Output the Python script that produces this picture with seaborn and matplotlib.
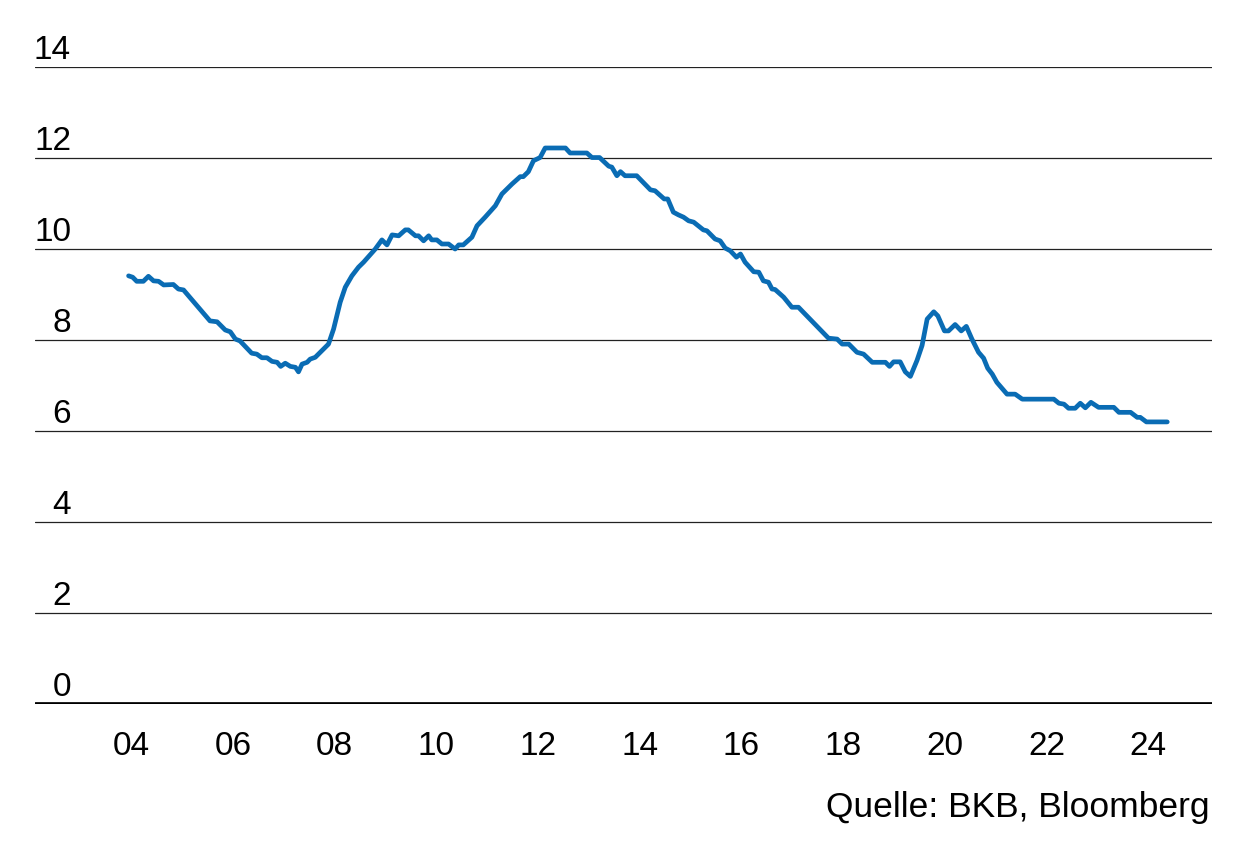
import pandas as pd
import matplotlib
matplotlib.use("Agg")
import matplotlib.pyplot as plt
import seaborn as sns

# données (année décimale, valeur)
annees = [2003.95, 2004.03, 2004.11, 2004.24, 2004.34, 2004.44, 2004.54, 2004.64, 2004.83, 2004.93,
          2005.03, 2005.55, 2005.69, 2005.85, 2005.95, 2006.05, 2006.14, 2006.37, 2006.47, 2006.57,
          2006.67, 2006.77, 2006.87, 2006.94, 2007.03, 2007.13, 2007.23, 2007.29, 2007.36, 2007.46,
          2007.52, 2007.62, 2007.78, 2007.88, 2007.98, 2008.11, 2008.21, 2008.34, 2008.47, 2008.57,
          2008.80, 2008.93, 2009.03, 2009.13, 2009.26, 2009.39, 2009.45, 2009.59, 2009.65, 2009.75,
          2009.85, 2009.91, 2010.01, 2010.11, 2010.24, 2010.37, 2010.44, 2010.53, 2010.70, 2010.80,
          2010.96, 2011.16, 2011.29, 2011.49, 2011.65, 2011.71, 2011.81, 2011.91, 2012.04, 2012.11,
          2012.14, 2012.54, 2012.63, 2012.96, 2013.06, 2013.21, 2013.39, 2013.45, 2013.55, 2013.62,
          2013.71, 2013.94, 2014.21, 2014.30, 2014.48, 2014.55, 2014.66, 2014.76, 2014.86, 2014.96,
          2015.06, 2015.25, 2015.32, 2015.48, 2015.58, 2015.68, 2015.78, 2015.90, 2015.98, 2016.07,
          2016.24, 2016.34, 2016.43, 2016.53, 2016.60, 2016.66, 2016.83, 2016.99, 2017.12, 2017.71,
          2017.88, 2017.98, 2018.11, 2018.27, 2018.40, 2018.57, 2018.83, 2018.91, 2018.99, 2019.12,
          2019.22, 2019.32, 2019.45, 2019.55, 2019.65, 2019.78, 2019.86, 2019.99, 2020.07, 2020.20,
          2020.32, 2020.42, 2020.53, 2020.66, 2020.76, 2020.84, 2020.93, 2021.02, 2021.22, 2021.38,
          2021.52, 2022.14, 2022.24, 2022.34, 2022.43, 2022.56, 2022.66, 2022.76, 2022.87, 2023.02,
          2023.32, 2023.42, 2023.65, 2023.78, 2023.84, 2023.96, 2024.37]
valeurs = [9.41, 9.38, 9.29, 9.29, 9.40, 9.30, 9.29, 9.21, 9.22, 9.12,
           9.10, 8.42, 8.40, 8.22, 8.18, 8.02, 7.98, 7.71, 7.69, 7.61,
           7.61, 7.53, 7.51, 7.42, 7.49, 7.42, 7.40, 7.30, 7.47, 7.51,
           7.58, 7.62, 7.80, 7.91, 8.24, 8.83, 9.16, 9.41, 9.60, 9.71,
           10.00, 10.20, 10.09, 10.31, 10.29, 10.42, 10.42, 10.29, 10.29, 10.18,
           10.29, 10.20, 10.20, 10.11, 10.11, 10.00, 10.09, 10.09, 10.26, 10.51,
           10.70, 10.95, 11.21, 11.43, 11.59, 11.59, 11.70, 11.94, 12.01, 12.16,
           12.22, 12.22, 12.11, 12.11, 12.01, 12.01, 11.82, 11.80, 11.61, 11.70,
           11.61, 11.61, 11.30, 11.28, 11.10, 11.10, 10.81, 10.75, 10.70, 10.62,
           10.59, 10.42, 10.40, 10.22, 10.18, 10.02, 9.96, 9.82, 9.89, 9.71,
           9.50, 9.49, 9.30, 9.27, 9.12, 9.11, 8.94, 8.72, 8.72, 8.04,
           8.02, 7.91, 7.91, 7.73, 7.69, 7.51, 7.51, 7.42, 7.52, 7.52,
           7.30, 7.20, 7.55, 7.88, 8.46, 8.62, 8.53, 8.20, 8.20, 8.34,
           8.20, 8.30, 8.02, 7.73, 7.60, 7.38, 7.25, 7.07, 6.81, 6.81,
           6.70, 6.70, 6.61, 6.59, 6.50, 6.50, 6.61, 6.51, 6.63, 6.52,
           6.52, 6.41, 6.41, 6.30, 6.30, 6.20, 6.20]

x_ticks = [2004, 2006, 2008, 2010, 2012, 2014, 2016, 2018, 2020, 2022, 2024]
x_labels = ["04", "06", "08", "10", "12", "14", "16", "18", "20", "22", "24"]
y_ticks = [0, 2, 4, 6, 8, 10, 12, 14]
source = "Quelle: BKB, Bloomberg"

data = pd.DataFrame({"annee": annees, "valeur": valeurs})

sns.set_style("white")
plt.rcParams["font.family"] = ["Liberation Sans", "DejaVu Sans"]

fig = plt.figure(figsize=(12.46, 8.54), dpi=100)
ax = fig.add_axes([35 / 1246, 1 - 705 / 854, (1212 - 35) / 1246, (705 - 68) / 854])

# lignes horizontales
for y in y_ticks[1:]:
    ax.axhline(y, color="#222222", lw=0.9, zorder=1)
ax.axhline(0, color="black", lw=3.4, zorder=3)

sns.lineplot(data=data, x="annee", y="valeur", ax=ax, color="#0a6cb4", lw=3.4, zorder=4)

ax.set_xlim(2002.11, 2025.25)
ax.set_ylim(0, 14)
for s in ax.spines.values():
    s.set_visible(False)

ax.set_xticks(x_ticks)
ax.set_xticklabels(x_labels, fontsize=24)
ax.tick_params(axis="x", length=0, pad=19, colors="black")
ax.set_yticks([])
ax.set_xlabel("")
ax.set_ylabel("")

# étiquettes de l'axe y au-dessus des lignes
for y in y_ticks:
    ax.text(0.0306, y + 0.2, str(y), transform=ax.get_yaxis_transform(),
            ha="right", va="baseline", fontsize=24, color="black", clip_on=False)

fig.text(1210 / 1246, 1 - 808 / 854, source, ha="right", va="center", fontsize=25.5, color="black")

plt.savefig("out.png", dpi=100)
